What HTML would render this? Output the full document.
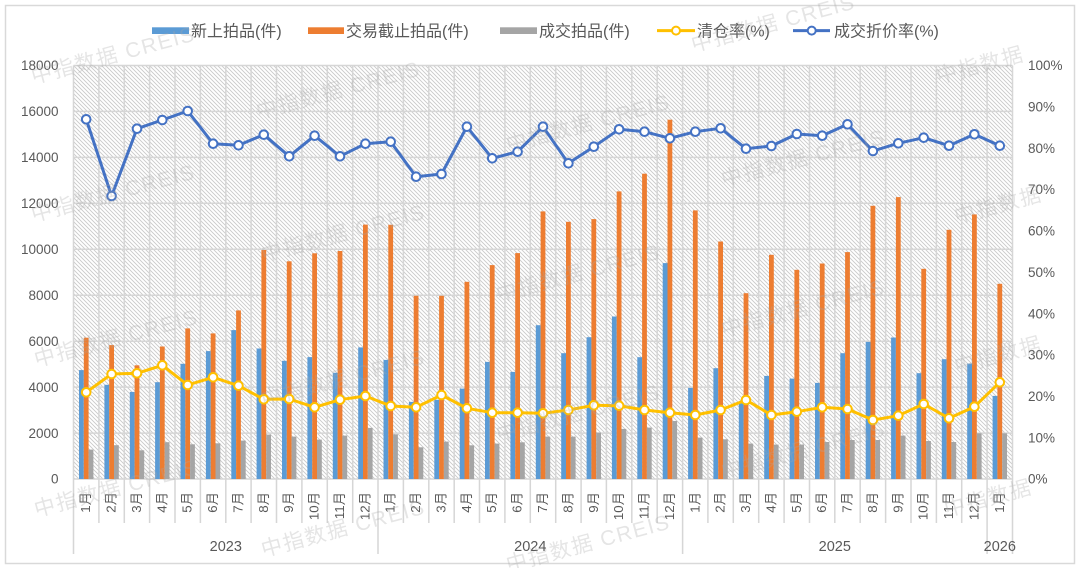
<!DOCTYPE html>
<html>
<head>
<meta charset="utf-8">
<style>
html,body{margin:0;padding:0;background:#fff;}
svg{display:block;}
text{font-family:"Liberation Sans","Noto Sans CJK SC",sans-serif;fill:#595959;}
</style>
</head>
<body>
<svg width="1080" height="568" viewBox="0 0 1080 568" xmlns="http://www.w3.org/2000/svg">
<defs>
<pattern id="hatch" patternUnits="userSpaceOnUse" width="4" height="4">
<rect width="4" height="4" fill="#ffffff"/>
<path d="M-1,-1 L5,5 M-1,3 L1,5 M3,-1 L5,1" stroke="#c9c9c9" stroke-width="0.9"/>
</pattern>
</defs>
<rect x="0" y="0" width="1080" height="568" fill="#fff"/>
<rect x="5.5" y="5.5" width="1069" height="558" fill="#fff" stroke="#d9d9d9" stroke-width="1.5"/>

<!-- plot background -->
<rect x="73.5" y="65.5" width="939" height="413.5" fill="url(#hatch)"/>

<!-- gridlines -->
<g stroke="#d6d6d6" stroke-width="1.5" fill="none">
<path d="M73.5,65.5H1012.5M73.5,111.4H1012.5M73.5,157.4H1012.5M73.5,203.3H1012.5M73.5,249.3H1012.5M73.5,295.2H1012.5M73.5,341.2H1012.5M73.5,387.1H1012.5M73.5,433.1H1012.5M73.5,479H1012.5"/>
<path d="M73.5,65.5V554M98.9,65.5V523M124.3,65.5V523M149.6,65.5V523M175,65.5V523M200.4,65.5V523M225.8,65.5V523M251.1,65.5V523M276.5,65.5V523M301.9,65.5V523M327.3,65.5V523M352.7,65.5V523M378,65.5V554M403.4,65.5V523M428.8,65.5V523M454.2,65.5V523M479.5,65.5V523M504.9,65.5V523M530.3,65.5V523M555.7,65.5V523M581.1,65.5V523M606.4,65.5V523M631.8,65.5V523M657.2,65.5V523M682.6,65.5V554M707.9,65.5V523M733.3,65.5V523M758.7,65.5V523M784.1,65.5V523M809.5,65.5V523M834.8,65.5V523M860.2,65.5V523M885.6,65.5V523M911,65.5V523M936.4,65.5V523M961.7,65.5V523M987.1,65.5V554M1012.5,65.5V554"/>
</g>

<!-- blue bars -->
<g fill="#5B9BD5">
<rect x="79.0" y="370.1" width="4.8" height="108.9"/>
<rect x="104.4" y="384.8" width="4.8" height="94.2"/>
<rect x="129.8" y="391.9" width="4.8" height="87.1"/>
<rect x="155.1" y="382.2" width="4.8" height="96.8"/>
<rect x="180.5" y="363.8" width="4.8" height="115.2"/>
<rect x="205.9" y="351.1" width="4.8" height="127.9"/>
<rect x="231.3" y="330.1" width="4.8" height="148.9"/>
<rect x="256.6" y="348.5" width="4.8" height="130.5"/>
<rect x="282.0" y="360.8" width="4.8" height="118.2"/>
<rect x="307.4" y="357.1" width="4.8" height="121.9"/>
<rect x="332.8" y="372.8" width="4.8" height="106.2"/>
<rect x="358.2" y="347.4" width="4.8" height="131.6"/>
<rect x="383.5" y="359.9" width="4.8" height="119.1"/>
<rect x="408.9" y="401.9" width="4.8" height="77.1"/>
<rect x="434.3" y="399.8" width="4.8" height="79.2"/>
<rect x="459.7" y="388.6" width="4.8" height="90.4"/>
<rect x="485.0" y="361.9" width="4.8" height="117.1"/>
<rect x="510.4" y="371.9" width="4.8" height="107.1"/>
<rect x="535.8" y="325.2" width="4.8" height="153.8"/>
<rect x="561.2" y="353.2" width="4.8" height="125.8"/>
<rect x="586.6" y="337.2" width="4.8" height="141.8"/>
<rect x="611.9" y="316.5" width="4.8" height="162.5"/>
<rect x="637.3" y="357.2" width="4.8" height="121.8"/>
<rect x="662.7" y="263.1" width="4.8" height="215.9"/>
<rect x="688.1" y="387.9" width="4.8" height="91.1"/>
<rect x="713.4" y="368.2" width="4.8" height="110.8"/>
<rect x="738.8" y="403.2" width="4.8" height="75.8"/>
<rect x="764.2" y="375.9" width="4.8" height="103.1"/>
<rect x="789.6" y="378.6" width="4.8" height="100.4"/>
<rect x="815.0" y="382.9" width="4.8" height="96.1"/>
<rect x="840.3" y="353.2" width="4.8" height="125.8"/>
<rect x="865.7" y="341.9" width="4.8" height="137.1"/>
<rect x="891.1" y="337.5" width="4.8" height="141.5"/>
<rect x="916.5" y="373.2" width="4.8" height="105.8"/>
<rect x="941.8" y="359.2" width="4.8" height="119.8"/>
<rect x="967.2" y="363.6" width="4.8" height="115.4"/>
<rect x="992.6" y="395.9" width="4.8" height="83.1"/>
</g>

<!-- orange bars -->
<g fill="#ED7D31">
<rect x="83.8" y="337.7" width="4.8" height="141.3"/>
<rect x="109.2" y="345.1" width="4.8" height="133.9"/>
<rect x="134.6" y="365.3" width="4.8" height="113.7"/>
<rect x="159.9" y="346.5" width="4.8" height="132.5"/>
<rect x="185.3" y="328.4" width="4.8" height="150.6"/>
<rect x="210.7" y="333.4" width="4.8" height="145.6"/>
<rect x="236.1" y="310.4" width="4.8" height="168.6"/>
<rect x="261.4" y="250.0" width="4.8" height="229.0"/>
<rect x="286.8" y="261.3" width="4.8" height="217.7"/>
<rect x="312.2" y="253.3" width="4.8" height="225.7"/>
<rect x="337.6" y="251.0" width="4.8" height="228.0"/>
<rect x="363.0" y="224.6" width="4.8" height="254.4"/>
<rect x="388.3" y="224.8" width="4.8" height="254.2"/>
<rect x="413.7" y="295.8" width="4.8" height="183.2"/>
<rect x="439.1" y="295.8" width="4.8" height="183.2"/>
<rect x="464.5" y="281.8" width="4.8" height="197.2"/>
<rect x="489.8" y="265.1" width="4.8" height="213.9"/>
<rect x="515.2" y="253.1" width="4.8" height="225.9"/>
<rect x="540.6" y="211.4" width="4.8" height="267.6"/>
<rect x="566.0" y="221.8" width="4.8" height="257.2"/>
<rect x="591.4" y="219.1" width="4.8" height="259.9"/>
<rect x="616.7" y="191.4" width="4.8" height="287.6"/>
<rect x="642.1" y="173.7" width="4.8" height="305.3"/>
<rect x="667.5" y="119.7" width="4.8" height="359.3"/>
<rect x="692.9" y="210.4" width="4.8" height="268.6"/>
<rect x="718.2" y="241.5" width="4.8" height="237.5"/>
<rect x="743.6" y="293.2" width="4.8" height="185.8"/>
<rect x="769.0" y="254.8" width="4.8" height="224.2"/>
<rect x="794.4" y="269.8" width="4.8" height="209.2"/>
<rect x="819.8" y="263.5" width="4.8" height="215.5"/>
<rect x="845.1" y="252.1" width="4.8" height="226.9"/>
<rect x="870.5" y="205.8" width="4.8" height="273.2"/>
<rect x="895.9" y="197.1" width="4.8" height="281.9"/>
<rect x="921.3" y="268.8" width="4.8" height="210.2"/>
<rect x="946.6" y="229.8" width="4.8" height="249.2"/>
<rect x="972.0" y="214.4" width="4.8" height="264.6"/>
<rect x="997.4" y="283.8" width="4.8" height="195.2"/>
</g>

<!-- gray bars -->
<g fill="#A5A5A5">
<rect x="88.6" y="449.6" width="4.8" height="29.4"/>
<rect x="114.0" y="445.2" width="4.8" height="33.8"/>
<rect x="139.4" y="450.3" width="4.8" height="28.7"/>
<rect x="164.7" y="442.2" width="4.8" height="36.8"/>
<rect x="190.1" y="444.3" width="4.8" height="34.7"/>
<rect x="215.5" y="443.3" width="4.8" height="35.7"/>
<rect x="240.9" y="440.6" width="4.8" height="38.4"/>
<rect x="266.2" y="434.6" width="4.8" height="44.4"/>
<rect x="291.6" y="436.6" width="4.8" height="42.4"/>
<rect x="317.0" y="439.6" width="4.8" height="39.4"/>
<rect x="342.4" y="435.6" width="4.8" height="43.4"/>
<rect x="367.8" y="427.9" width="4.8" height="51.1"/>
<rect x="393.1" y="434.3" width="4.8" height="44.7"/>
<rect x="418.5" y="447.3" width="4.8" height="31.7"/>
<rect x="443.9" y="441.6" width="4.8" height="37.4"/>
<rect x="469.3" y="445.3" width="4.8" height="33.7"/>
<rect x="494.6" y="443.6" width="4.8" height="35.4"/>
<rect x="520.0" y="442.3" width="4.8" height="36.7"/>
<rect x="545.4" y="436.6" width="4.8" height="42.4"/>
<rect x="570.8" y="436.6" width="4.8" height="42.4"/>
<rect x="596.2" y="432.6" width="4.8" height="46.4"/>
<rect x="621.5" y="428.9" width="4.8" height="50.1"/>
<rect x="646.9" y="427.6" width="4.8" height="51.4"/>
<rect x="672.3" y="421.0" width="4.8" height="58.0"/>
<rect x="697.7" y="437.6" width="4.8" height="41.4"/>
<rect x="723.0" y="439.3" width="4.8" height="39.7"/>
<rect x="748.4" y="443.6" width="4.8" height="35.4"/>
<rect x="773.8" y="444.6" width="4.8" height="34.4"/>
<rect x="799.2" y="444.6" width="4.8" height="34.4"/>
<rect x="824.6" y="442.0" width="4.8" height="37.0"/>
<rect x="849.9" y="440.0" width="4.8" height="39.0"/>
<rect x="875.3" y="440.0" width="4.8" height="39.0"/>
<rect x="900.7" y="435.6" width="4.8" height="43.4"/>
<rect x="926.1" y="441.0" width="4.8" height="38.0"/>
<rect x="951.4" y="442.0" width="4.8" height="37.0"/>
<rect x="976.8" y="433.3" width="4.8" height="45.7"/>
<rect x="1002.2" y="433.3" width="4.8" height="45.7"/>
</g>

<!-- yellow line -->
<polyline fill="none" stroke="#FFC000" stroke-width="3" stroke-linejoin="round" points="86.2,392.3 111.6,374 137.0,373.3 162.3,365.3 187.7,385 213.1,377.3 238.5,385.7 263.8,399.3 289.2,399 314.6,407.3 340.0,399.7 365.4,396 390.7,406 416.1,407.3 441.5,395 466.9,408.3 492.2,412.7 517.6,412.7 543.0,413.3 568.4,410 593.8,405.3 619.1,405.7 644.5,410 669.9,412.7 695.3,415 720.6,410 746.0,400 771.4,415 796.8,411.7 822.2,407.3 847.5,409 872.9,420 898.3,415.7 923.7,404 949.0,418.3 974.4,406.7 999.8,382.3"/>
<g fill="#fff" stroke="#FFC000" stroke-width="2">
<circle cx="86.2" cy="392.3" r="4.3"/><circle cx="111.6" cy="374" r="4.3"/><circle cx="137.0" cy="373.3" r="4.3"/><circle cx="162.3" cy="365.3" r="4.3"/><circle cx="187.7" cy="385" r="4.3"/><circle cx="213.1" cy="377.3" r="4.3"/><circle cx="238.5" cy="385.7" r="4.3"/><circle cx="263.8" cy="399.3" r="4.3"/><circle cx="289.2" cy="399" r="4.3"/><circle cx="314.6" cy="407.3" r="4.3"/><circle cx="340.0" cy="399.7" r="4.3"/><circle cx="365.4" cy="396" r="4.3"/><circle cx="390.7" cy="406" r="4.3"/><circle cx="416.1" cy="407.3" r="4.3"/><circle cx="441.5" cy="395" r="4.3"/><circle cx="466.9" cy="408.3" r="4.3"/><circle cx="492.2" cy="412.7" r="4.3"/><circle cx="517.6" cy="412.7" r="4.3"/><circle cx="543.0" cy="413.3" r="4.3"/><circle cx="568.4" cy="410" r="4.3"/><circle cx="593.8" cy="405.3" r="4.3"/><circle cx="619.1" cy="405.7" r="4.3"/><circle cx="644.5" cy="410" r="4.3"/><circle cx="669.9" cy="412.7" r="4.3"/><circle cx="695.3" cy="415" r="4.3"/><circle cx="720.6" cy="410" r="4.3"/><circle cx="746.0" cy="400" r="4.3"/><circle cx="771.4" cy="415" r="4.3"/><circle cx="796.8" cy="411.7" r="4.3"/><circle cx="822.2" cy="407.3" r="4.3"/><circle cx="847.5" cy="409" r="4.3"/><circle cx="872.9" cy="420" r="4.3"/><circle cx="898.3" cy="415.7" r="4.3"/><circle cx="923.7" cy="404" r="4.3"/><circle cx="949.0" cy="418.3" r="4.3"/><circle cx="974.4" cy="406.7" r="4.3"/><circle cx="999.8" cy="382.3" r="4.3"/>
</g>

<!-- blue line -->
<polyline fill="none" stroke="#4472C4" stroke-width="3" stroke-linejoin="round" points="86.2,119.3 111.6,196 137.0,128.7 162.3,120 187.7,111 213.1,143.7 238.5,145.3 263.8,134.7 289.2,156.3 314.6,135.7 340.0,156.3 365.4,143.7 390.7,141.7 416.1,176.7 441.5,174 466.9,126.7 492.2,158.3 517.6,151.7 543.0,126.7 568.4,163.3 593.8,146.7 619.1,129.3 644.5,131.7 669.9,138.3 695.3,131.7 720.6,128.3 746.0,148.7 771.4,146 796.8,134 822.2,135.7 847.5,124.3 872.9,151 898.3,143.3 923.7,137.7 949.0,145.7 974.4,134.3 999.8,145.7"/>
<g fill="#fff" stroke="#4472C4" stroke-width="2">
<circle cx="86.2" cy="119.3" r="4.3"/><circle cx="111.6" cy="196" r="4.3"/><circle cx="137.0" cy="128.7" r="4.3"/><circle cx="162.3" cy="120" r="4.3"/><circle cx="187.7" cy="111" r="4.3"/><circle cx="213.1" cy="143.7" r="4.3"/><circle cx="238.5" cy="145.3" r="4.3"/><circle cx="263.8" cy="134.7" r="4.3"/><circle cx="289.2" cy="156.3" r="4.3"/><circle cx="314.6" cy="135.7" r="4.3"/><circle cx="340.0" cy="156.3" r="4.3"/><circle cx="365.4" cy="143.7" r="4.3"/><circle cx="390.7" cy="141.7" r="4.3"/><circle cx="416.1" cy="176.7" r="4.3"/><circle cx="441.5" cy="174" r="4.3"/><circle cx="466.9" cy="126.7" r="4.3"/><circle cx="492.2" cy="158.3" r="4.3"/><circle cx="517.6" cy="151.7" r="4.3"/><circle cx="543.0" cy="126.7" r="4.3"/><circle cx="568.4" cy="163.3" r="4.3"/><circle cx="593.8" cy="146.7" r="4.3"/><circle cx="619.1" cy="129.3" r="4.3"/><circle cx="644.5" cy="131.7" r="4.3"/><circle cx="669.9" cy="138.3" r="4.3"/><circle cx="695.3" cy="131.7" r="4.3"/><circle cx="720.6" cy="128.3" r="4.3"/><circle cx="746.0" cy="148.7" r="4.3"/><circle cx="771.4" cy="146" r="4.3"/><circle cx="796.8" cy="134" r="4.3"/><circle cx="822.2" cy="135.7" r="4.3"/><circle cx="847.5" cy="124.3" r="4.3"/><circle cx="872.9" cy="151" r="4.3"/><circle cx="898.3" cy="143.3" r="4.3"/><circle cx="923.7" cy="137.7" r="4.3"/><circle cx="949.0" cy="145.7" r="4.3"/><circle cx="974.4" cy="134.3" r="4.3"/><circle cx="999.8" cy="145.7" r="4.3"/>
</g>

<!-- left axis labels -->
<g font-size="13.5" text-anchor="end">
<text x="58.5" y="70.2">18000</text>
<text x="58.5" y="116.1">16000</text>
<text x="58.5" y="162.1">14000</text>
<text x="58.5" y="208">12000</text>
<text x="58.5" y="254">10000</text>
<text x="58.5" y="299.9">8000</text>
<text x="58.5" y="345.9">6000</text>
<text x="58.5" y="391.8">4000</text>
<text x="58.5" y="437.8">2000</text>
<text x="58.5" y="483.7">0</text>
</g>

<!-- right axis labels -->
<g font-size="13.5" text-anchor="start">
<text x="1028" y="70.2">100%</text>
<text x="1028" y="111.5">90%</text>
<text x="1028" y="152.9">80%</text>
<text x="1028" y="194.2">70%</text>
<text x="1028" y="235.6">60%</text>
<text x="1028" y="277">50%</text>
<text x="1028" y="318.3">40%</text>
<text x="1028" y="359.7">30%</text>
<text x="1028" y="401">20%</text>
<text x="1028" y="442.4">10%</text>
<text x="1028" y="483.7">0%</text>
</g>

<!-- month labels -->
<g font-size="13.3" text-anchor="end">
<text transform="translate(90.2,492) rotate(-90)">1月</text>
<text transform="translate(115.6,492) rotate(-90)">2月</text>
<text transform="translate(141.0,492) rotate(-90)">3月</text>
<text transform="translate(166.3,492) rotate(-90)">4月</text>
<text transform="translate(191.7,492) rotate(-90)">5月</text>
<text transform="translate(217.1,492) rotate(-90)">6月</text>
<text transform="translate(242.5,492) rotate(-90)">7月</text>
<text transform="translate(267.8,492) rotate(-90)">8月</text>
<text transform="translate(293.2,492) rotate(-90)">9月</text>
<text transform="translate(318.6,492) rotate(-90)">10月</text>
<text transform="translate(344.0,492) rotate(-90)">11月</text>
<text transform="translate(369.4,492) rotate(-90)">12月</text>
<text transform="translate(394.7,492) rotate(-90)">1月</text>
<text transform="translate(420.1,492) rotate(-90)">2月</text>
<text transform="translate(445.5,492) rotate(-90)">3月</text>
<text transform="translate(470.9,492) rotate(-90)">4月</text>
<text transform="translate(496.2,492) rotate(-90)">5月</text>
<text transform="translate(521.6,492) rotate(-90)">6月</text>
<text transform="translate(547.0,492) rotate(-90)">7月</text>
<text transform="translate(572.4,492) rotate(-90)">8月</text>
<text transform="translate(597.8,492) rotate(-90)">9月</text>
<text transform="translate(623.1,492) rotate(-90)">10月</text>
<text transform="translate(648.5,492) rotate(-90)">11月</text>
<text transform="translate(673.9,492) rotate(-90)">12月</text>
<text transform="translate(699.3,492) rotate(-90)">1月</text>
<text transform="translate(724.6,492) rotate(-90)">2月</text>
<text transform="translate(750.0,492) rotate(-90)">3月</text>
<text transform="translate(775.4,492) rotate(-90)">4月</text>
<text transform="translate(800.8,492) rotate(-90)">5月</text>
<text transform="translate(826.2,492) rotate(-90)">6月</text>
<text transform="translate(851.5,492) rotate(-90)">7月</text>
<text transform="translate(876.9,492) rotate(-90)">8月</text>
<text transform="translate(902.3,492) rotate(-90)">9月</text>
<text transform="translate(927.7,492) rotate(-90)">10月</text>
<text transform="translate(953.0,492) rotate(-90)">11月</text>
<text transform="translate(978.4,492) rotate(-90)">12月</text>
<text transform="translate(1003.8,492) rotate(-90)">1月</text>
</g>

<!-- year labels -->
<g font-size="14.5" text-anchor="middle">
<text x="225.8" y="551">2023</text>
<text x="530.3" y="551">2024</text>
<text x="834.8" y="551">2025</text>
<text x="999.8" y="551">2026</text>
</g>

<!-- legend -->
<g font-size="16">
<rect x="152" y="27.3" width="37" height="6.7" fill="#5B9BD5"/>
<text x="191" y="36.5">新上拍品(件)</text>
<rect x="308" y="27.3" width="36" height="6.7" fill="#ED7D31"/>
<text x="346" y="36.5">交易截止拍品(件)</text>
<rect x="500" y="27.3" width="37" height="6.7" fill="#A5A5A5"/>
<text x="539" y="36.5">成交拍品(件)</text>
<line x1="657" y1="30.6" x2="695" y2="30.6" stroke="#FFC000" stroke-width="3"/>
<circle cx="676" cy="30.6" r="4" fill="#fff" stroke="#FFC000" stroke-width="2"/>
<text x="697" y="36.5">清仓率(%)</text>
<line x1="793" y1="30.6" x2="830" y2="30.6" stroke="#4472C4" stroke-width="3"/>
<circle cx="811.7" cy="30.6" r="4" fill="#fff" stroke="#4472C4" stroke-width="2"/>
<text x="834" y="36.5">成交折价率(%)</text>
</g>

<!-- watermarks -->
<g font-size="21" text-anchor="middle" opacity="0.3" letter-spacing="1.5">
<text style="fill:#a8a8a8" transform="translate(115,62) rotate(-15)">中指数据 CREIS</text>
<text style="fill:#a8a8a8" transform="translate(115,200) rotate(-15)">中指数据 CREIS</text>
<text style="fill:#a8a8a8" transform="translate(118,345) rotate(-15)">中指数据 CREIS</text>
<text style="fill:#a8a8a8" transform="translate(118,495) rotate(-15)">中指数据 CREIS</text>
<text style="fill:#a8a8a8" transform="translate(340,97) rotate(-15)">中指数据 CREIS</text>
<text style="fill:#a8a8a8" transform="translate(345,240) rotate(-15)">中指数据 CREIS</text>
<text style="fill:#a8a8a8" transform="translate(345,385) rotate(-15)">中指数据 CREIS</text>
<text style="fill:#a8a8a8" transform="translate(345,535) rotate(-15)">中指数据 CREIS</text>
<text style="fill:#a8a8a8" transform="translate(590,130) rotate(-15)">中指数据 CREIS</text>
<text style="fill:#a8a8a8" transform="translate(580,280) rotate(-15)">中指数据 CREIS</text>
<text style="fill:#a8a8a8" transform="translate(580,420) rotate(-15)">中指数据 CREIS</text>
<text style="fill:#a8a8a8" transform="translate(590,550) rotate(-15)">中指数据 CREIS</text>
<text style="fill:#a8a8a8" transform="translate(775,30) rotate(-15)">中指数据 CREIS</text>
<text style="fill:#a8a8a8" transform="translate(805,165) rotate(-15)">中指数据 CREIS</text>
<text style="fill:#a8a8a8" transform="translate(805,315) rotate(-15)">中指数据 CREIS</text>
<text style="fill:#a8a8a8" transform="translate(805,457) rotate(-15)">中指数据 CREIS</text>
<text style="fill:#a8a8a8" transform="translate(982,72) rotate(-15)">中指数据</text>
<text style="fill:#a8a8a8" transform="translate(1000,212) rotate(-15)">中指数据</text>
<text style="fill:#a8a8a8" transform="translate(1000,362) rotate(-15)">中指数据</text>
<text style="fill:#a8a8a8" transform="translate(990,505) rotate(-15)">中指数据</text>
</g>
</svg>
</body>
</html>
